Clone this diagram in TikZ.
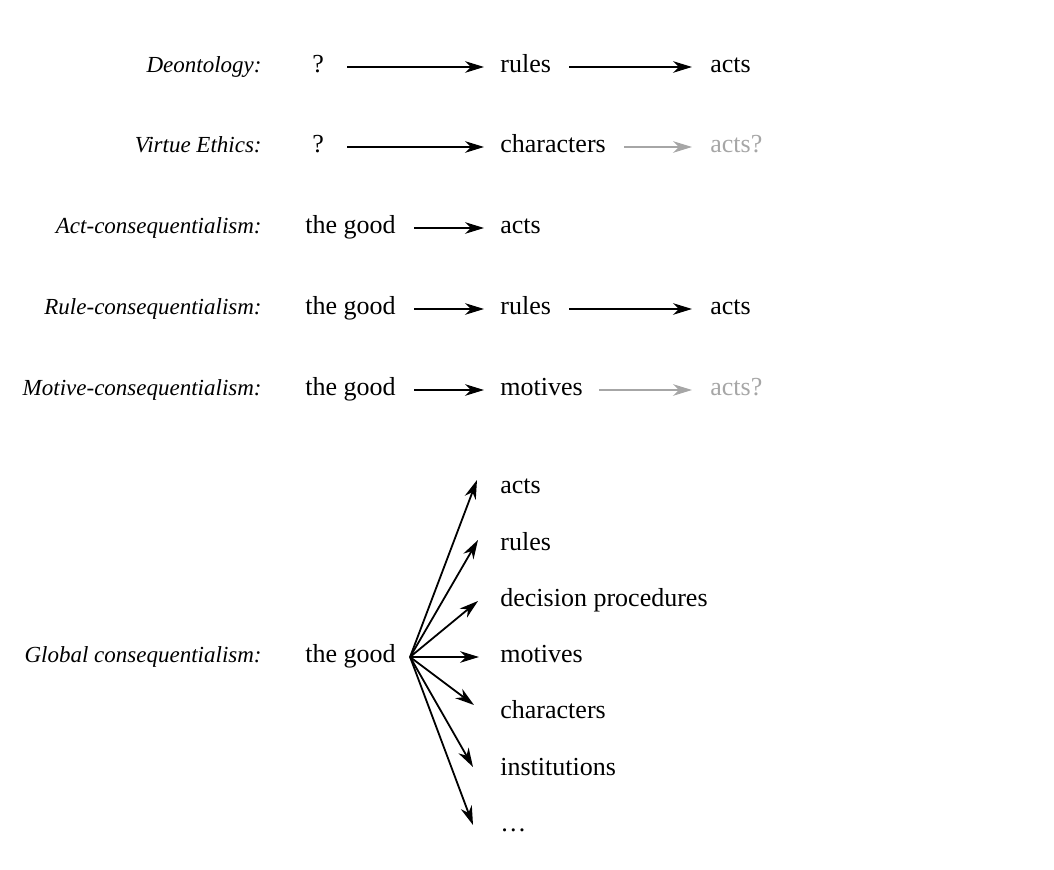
\documentclass[tikz,border=0pt]{standalone}
\usepackage{fontspec}
\setmainfont{Liberation Serif}
\usetikzlibrary{arrows.meta}

\begin{document}
\begin{tikzpicture}[
  x=0.5pt, y=-0.5pt,
  every node/.style={inner sep=0pt, text height=1.5ex, text depth=0.25ex,
                     font=\fontsize{13}{15}\selectfont},
  theory/.style={anchor=east, font=\fontsize{11.5}{15}\selectfont\itshape},
  item/.style={anchor=west},
  faint/.style={text=black!35},
  arr/.style={-{Stealth[length=9.5pt, width=5.8pt, inset=3pt]}, line width=0.9pt,
              shorten <=9pt, shorten >=9pt},
  farr/.style={arr, black!35}
]
  \useasboundingbox (0,0) rectangle (1054,870);

  % one-level theories
  \node[theory] (deonL) at (262,67) {Deontology:};
  \node[item] (deonA) at (312,67) {?};
  \node[item] (deonB) at (500,67) {rules};
  \node[item] (deonC) at (710,67) {acts};
  \draw[arr, shorten <=11.5pt, shorten >=8pt] (deonA) -- (deonB);
  \draw[arr] (deonB) -- (deonC);

  \node[theory] (virtL) at (262,147) {Virtue Ethics:};
  \node[item] (virtA) at (312,147) {?};
  \node[item] (virtB) at (500,147) {characters};
  \node[item, faint] (virtC) at (710,147) {acts?};
  \draw[arr, shorten <=11.5pt, shorten >=8pt] (virtA) -- (virtB);
  \draw[farr] (virtB) -- (virtC);

  \node[theory] (actL) at (262,228) {Act-consequentialism:};
  \node[item] (actA) at (305,228) {the good};
  \node[item] (actB) at (500,228) {acts};
  \draw[arr, shorten >=8pt] (actA) -- (actB);

  \node[theory] (ruleL) at (262,309) {Rule-consequentialism:};
  \node[item] (ruleA) at (305,309) {the good};
  \node[item] (ruleB) at (500,309) {rules};
  \node[item] (ruleC) at (710,309) {acts};
  \draw[arr, shorten >=8pt] (ruleA) -- (ruleB);
  \draw[arr] (ruleB) -- (ruleC);

  \node[theory] (motL) at (262,390) {Motive-consequentialism:};
  \node[item] (motA) at (305,390) {the good};
  \node[item] (motB) at (500,390) {motives};
  \node[item, faint] (motC) at (710,390) {acts?};
  \draw[arr, shorten >=8pt] (motA) -- (motB);
  \draw[farr, shorten <=8pt] (motB) -- (motC);

  % global consequentialism
  \node[theory] (globL) at (262,657) {Global consequentialism:};
  \node[item] (globA) at (305,657) {the good};
  \node[item] (g1) at (500,488) {acts};
  \node[item] (g2) at (500,545) {rules};
  \node[item] (g3) at (500,601) {decision procedures};
  \node[item] (g4) at (500,657) {motives};
  \node[item] (g5) at (500,713) {characters};
  \node[item] (g6) at (500,770) {institutions};
  \node[item] (g7) at (500,826) {\dots};

  \coordinate (fork) at ([xshift=7pt]globA.east);
  \coordinate (t1) at ([shift={(-23,-8)}]g1.west);
  \coordinate (t2) at ([shift={(-22,-5)}]g2.west);
  \coordinate (t3) at ([shift={(-22,0)}]g3.west);
  \coordinate (t4) at ([shift={(-21,0)}]g4.west);
  \coordinate (t5) at ([shift={(-26,-8)}]g5.west);
  \coordinate (t6) at ([shift={(-27,-3)}]g6.west);
  \coordinate (t7) at ([shift={(-27,-1)}]g7.west);

  \draw[arr, shorten <=0pt, shorten >=0pt] (fork) -- (t1);
  \draw[arr, shorten <=0pt, shorten >=0pt] (fork) -- (t2);
  \draw[arr, shorten <=0pt, shorten >=0pt] (fork) -- (t3);
  \draw[arr, shorten <=0pt, shorten >=0pt] (fork) -- (t4);
  \draw[arr, shorten <=0pt, shorten >=0pt] (fork) -- (t5);
  \draw[arr, shorten <=0pt, shorten >=0pt] (fork) -- (t6);
  \draw[arr, shorten <=0pt, shorten >=0pt] (fork) -- (t7);
\end{tikzpicture}
\end{document}
